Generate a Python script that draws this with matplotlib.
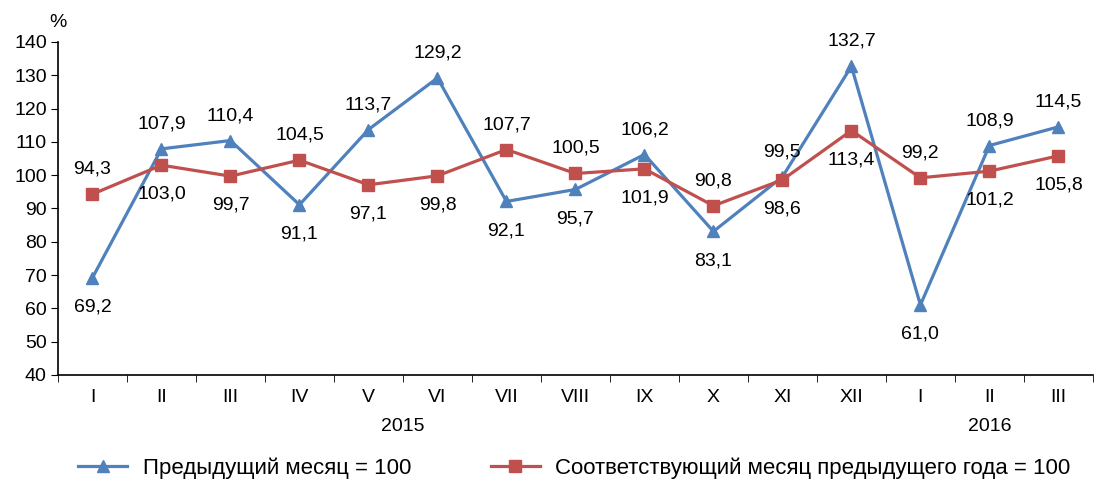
import numpy as np
import matplotlib
matplotlib.use('Agg')
import matplotlib.pyplot as plt

plt.rcParams['font.family'] = ['Liberation Sans', 'DejaVu Sans']

months = ['I', 'II', 'III', 'IV', 'V', 'VI', 'VII', 'VIII', 'IX', 'X', 'XI', 'XII', 'I', 'II', 'III']
prev_month = [69.2, 107.9, 110.4, 91.1, 113.7, 129.2, 92.1, 95.7, 106.2, 83.1, 99.5, 132.7, 61.0, 108.9, 114.5]
prev_year = [94.3, 103.0, 99.7, 104.5, 97.1, 99.8, 107.7, 100.5, 101.9, 90.8, 98.6, 113.4, 99.2, 101.2, 105.8]
# label side: 1 above, -1 below
prev_month_side = [-1, 1, 1, -1, 1, 1, -1, -1, 1, -1, 1, 1, -1, 1, 1]
prev_year_side = [1, -1, -1, 1, -1, -1, 1, 1, -1, 1, -1, -1, 1, -1, -1]
years = [('2015', 4.5), ('2016', 13)]

blue = '#4F81BD'
red = '#C0504D'

fig = plt.figure(figsize=(10.94, 4.8), dpi=100)
ax = fig.add_axes([0.053, 0.219, 0.946, 0.6935])

x = np.arange(len(months))
ax.plot(x, prev_month, color=blue, lw=2.3, marker='^', ms=9, label='Предыдущий месяц = 100', zorder=3)
ax.plot(x, prev_year, color=red, lw=2.3, marker='s', ms=8, label='Соответствующий месяц предыдущего года = 100', zorder=4)

def fmt(v):
    return f'{v:.1f}'.replace('.', ',')

def label(xs, vals, sides):
    for xi, v, s in zip(xs, vals, sides):
        off = 18 if s > 0 else -21
        ax.annotate(fmt(v), (xi, v), xytext=(0, off), textcoords='offset points',
                    ha='center', va='center', fontsize=14)

label(x, prev_month, prev_month_side)
label(x, prev_year, prev_year_side)

ax.set_xlim(-0.5, len(months) - 0.5)
ax.set_ylim(40, 140)
ax.set_yticks(np.arange(40, 141, 10))
ax.set_xticks(x)
ax.set_xticklabels(months)
ax.set_xticks(np.arange(-0.5, len(months), 1), minor=True)
ax.tick_params(axis='x', which='major', length=0, pad=10, labelsize=14)
ax.tick_params(axis='x', which='minor', length=5, direction='out')
ax.tick_params(axis='y', length=5, direction='out', labelsize=14, pad=3)
for sp in ['top', 'right']:
    ax.spines[sp].set_visible(False)
for sp in ['left', 'bottom']:
    ax.spines[sp].set_linewidth(1.2)

for name, pos in years:
    ax.text(pos, -0.155, name, transform=ax.get_xaxis_transform(), ha='center', va='center', fontsize=14)

ax.text(0.0, 1.06, '%', transform=ax.transAxes, ha='center', va='center', fontsize=14)

fig.legend(loc='center', bbox_to_anchor=(0.525, 0.025), ncol=2, frameon=False,
           fontsize=16, handlelength=2.2, handletextpad=0.7, columnspacing=3.6)

fig.savefig('out.png', dpi=100)
